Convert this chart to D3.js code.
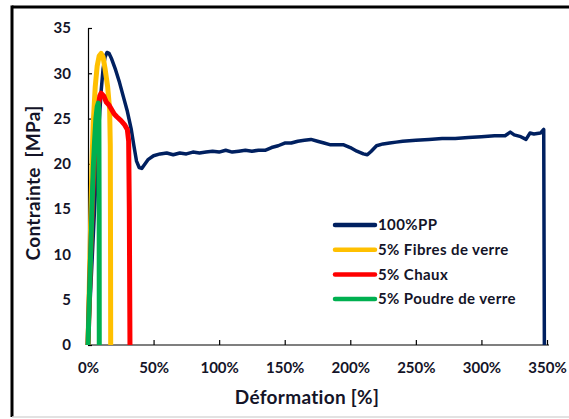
<!DOCTYPE html>
<html>
<head>
<meta charset="utf-8">
<script src="https://cdn.jsdelivr.net/npm/d3@7"></script>
<style>
  body { margin: 0; background: #fff; }
  svg { display: block; font-family: Lato, "Open Sans", sans-serif; font-weight: bold; }
</style>
</head>
<body>
<svg></svg>
<script>
// strain [%], stress [MPa]
var pp = [[0,0],[2,6],[4,12],[6,18],[8,23.5],[10,28],[11.5,30.5],[13,31.8],[14.5,32.3],[16,32.2],[18,31.6],[21,30.4],[24,29],[27,27.4],[30,25.8],[33,23.8],[35,22],[37,20.3],[39,19.6],[41,19.5],[43,19.9],[46,20.5],[50,20.9],[55,21.1],[60,21.2],[65,21],[70,21.2],[75,21.1],[80,21.3],[85,21.2],[90,21.3],[95,21.4],[100,21.3],[105,21.5],[110,21.3],[115,21.4],[120,21.5],[125,21.4],[130,21.5],[135,21.5],[140,21.8],[145,22],[150,22.3],[155,22.3],[160,22.5],[165,22.6],[170,22.7],[175,22.5],[180,22.3],[185,22.1],[190,22.1],[195,22.1],[200,21.8],[205,21.4],[210,21.1],[213,21],[216,21.4],[220,22],[225,22.2],[230,22.3],[235,22.4],[240,22.5],[250,22.6],[260,22.7],[270,22.8],[280,22.8],[290,22.9],[300,23],[310,23.1],[318,23.1],[322,23.5],[325,23.2],[330,23],[334,22.7],[337,23.4],[340,23.3],[345,23.4],[347.5,23.8],[348,0]];
var fibres = [[0,0],[1.5,10],[3,20],[4,24.5],[5.5,28.5],[7,30.8],[8.5,31.9],[10,32.2],[11.5,31.8],[13,30.5],[15,28.5],[16.5,26],[17,22],[17.2,10],[17.3,0]];
var chaux = [[0,0],[2,10],[4,18],[6,23],[7.5,26],[9,27.5],[10,27.8],[12,27.5],[14,26.8],[16,26.5],[18,26],[20,25.5],[22,25.2],[25,24.8],[28,24.3],[30,23.8],[31,22.5],[31.5,15],[32,0]];
var poudre = [[0,0],[1,5],[2,10],[3,15],[4,19.5],[5,22.5],[6,25],[7,26.3],[7.8,26.7],[8.3,25.5],[8.5,15],[8.6,0]];

var seriesNames = ['100%PP', '5% Fibres de verre', '5% Chaux', '5% Poudre de verre'];
var seriesData = [pp, fibres, chaux, poudre];
var seriesColors = ['#002060', '#FFC000', '#FF0000', '#00B050'];
var xTicks = [0, 50, 100, 150, 200, 250, 300, 350];
var yTicks = [0, 5, 10, 15, 20, 25, 30, 35];

document.addEventListener("DOMContentLoaded", (event) => {
    drawChart();
});

function drawChart() {
    var svgWidth = 569, svgHeight = 419;
    var margin = { top: 28, left: 88 };
    var width = 459, height = 317;
    var ink = '#141428';

    var svg = d3.select('svg')
        .attr('width', svgWidth)
        .attr('height', svgHeight);

    // frame
    svg.append('line').attr('x1', 12).attr('x2', 569).attr('y1', 7).attr('y2', 7)
        .attr('stroke', '#000').attr('stroke-width', 3);
    svg.append('line').attr('x1', 12).attr('x2', 12).attr('y1', 5.5).attr('y2', 417)
        .attr('stroke', '#000').attr('stroke-width', 3);
    svg.append('line').attr('x1', 12).attr('x2', 569).attr('y1', 417).attr('y2', 417)
        .attr('stroke', '#d9d9d9').attr('stroke-width', 1.5);

    var g = svg.append('g')
        .attr('transform', 'translate(' + margin.left + ',' + margin.top + ')');

    var x = d3.scaleLinear().domain([0, 350]).range([0, width]);
    var y = d3.scaleLinear().domain([0, 35]).range([height, 0]);

    var xAxis = g.append('g')
        .attr('transform', 'translate(0,' + height + ')')
        .call(d3.axisBottom(x).tickValues(xTicks).tickFormat((d) => d + '%')
            .tickSizeInner(-5).tickSizeOuter(0).tickPadding(17));
    xAxis.select('.domain').attr('d', 'M0,0H' + (width + 2));

    var yAxis = g.append('g')
        .call(d3.axisLeft(y).tickValues(yTicks)
            .tickSizeInner(-4).tickSizeOuter(0).tickPadding(17));

    [xAxis, yAxis].forEach((a) => {
        a.selectAll('.domain').attr('stroke', '#000').attr('stroke-width', 1.2);
        a.selectAll('.tick line').attr('stroke', '#000').attr('stroke-width', 1.2);
        a.selectAll('text').attr('fill', ink).attr('font-size', 15)
            .attr('font-family', 'Lato, sans-serif').attr('font-weight', 'bold');
    });

    var line = d3.line()
        .x((d) => { return x(d[0]) })
        .y((d) => { return y(d[1]) });

    var widths = [3.5, 5, 5, 5];
    seriesData.forEach((s, i) => {
        g.append('path')
            .datum(s)
            .attr('fill', 'none')
            .attr('stroke', seriesColors[i])
            .attr('stroke-width', widths[i])
            .attr('stroke-linejoin', 'round')
            .attr('d', line);
    });

    // legend
    var legend = svg.append('g').attr('transform', 'translate(335,225)');
    seriesNames.forEach((name, i) => {
        var row = legend.append('g').attr('transform', 'translate(0,' + (i * 24.7) + ')');
        row.append('line').attr('x1', 0).attr('x2', 40).attr('y1', 0).attr('y2', 0)
            .attr('stroke', seriesColors[i]).attr('stroke-width', 4.5)
            .attr('stroke-linecap', 'round');
        row.append('text').attr('x', 43).attr('dy', '0.35em')
            .attr('font-size', 15).attr('letter-spacing', 0.4).attr('fill', ink)
            .text(name);
    });

    // axis titles
    svg.append('text')
        .attr('x', 307).attr('y', 397).attr('dy', '0.35em')
        .attr('text-anchor', 'middle').attr('font-size', 19).attr('letter-spacing', 0.3)
        .attr('fill', ink)
        .text('Déformation [%]');

    svg.append('text')
        .attr('transform', 'translate(33,183) rotate(-90)')
        .attr('dy', '0.35em')
        .attr('text-anchor', 'middle').attr('font-size', 19).attr('letter-spacing', 0.3)
        .attr('fill', ink)
        .attr('xml:space', 'preserve')
        .text('Contrainte  [MPa]');
}
</script>
</body>
</html>
